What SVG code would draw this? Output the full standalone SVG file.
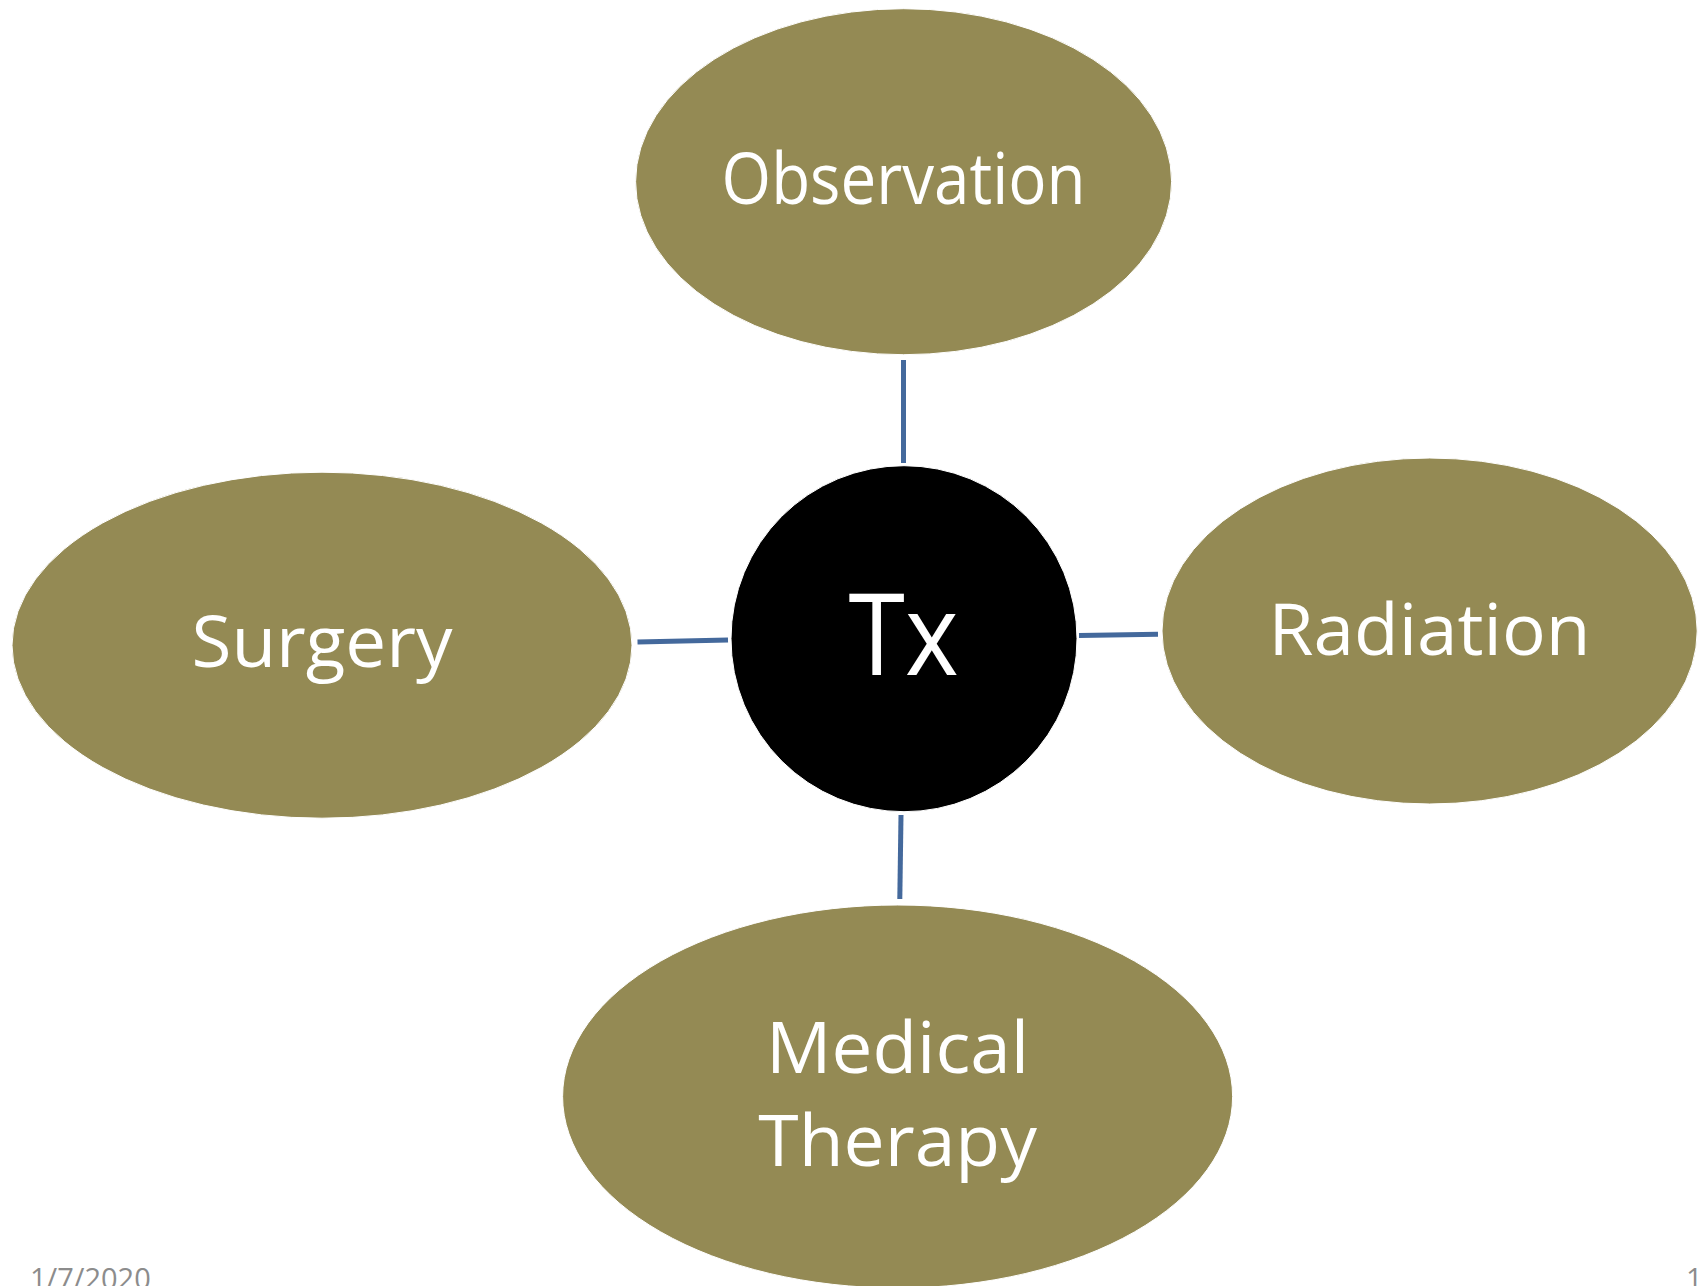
<svg xmlns="http://www.w3.org/2000/svg" width="1706" height="1286" viewBox="0 0 1706 1286">
<style>
.oval{fill:#948a54;stroke:#ffffff;stroke-width:1}
.hub{fill:#000000;stroke:#ffffff;stroke-width:1}
.lbl{font-family:"Open Sans","Noto Sans","Liberation Sans",sans-serif;fill:#ffffff;text-anchor:middle}
.conn line{stroke:#44699c;stroke-width:5}
.foot{font-family:"Open Sans","Liberation Sans",sans-serif;fill:#8c8c8c;font-size:29px}
</style>
<rect width="1706" height="1286" fill="#ffffff"/>
<g id="connectors" class="conn">
<line x1="903.5" y1="360" x2="903.5" y2="463"/>
<line x1="637.5" y1="642" x2="728" y2="640"/>
<line x1="1079" y1="635.5" x2="1158" y2="634.3"/>
<line x1="901" y1="815" x2="899.8" y2="899"/>
</g>
<g id="node-observation">
<ellipse class="oval" cx="903.6" cy="181.7" rx="268" ry="173"/>
<text class="lbl" x="903.6" y="203.5" font-size="72" textLength="364" lengthAdjust="spacingAndGlyphs">Observation</text>
</g>
<g id="node-tx">
<ellipse class="hub" cx="904" cy="638.7" rx="173" ry="173"/>
<text class="lbl" x="903.5" y="674.6" font-size="114" textLength="110" lengthAdjust="spacingAndGlyphs">Tx</text>
</g>
<g id="node-surgery">
<ellipse class="oval" cx="322" cy="645.2" rx="310" ry="173"/>
<text class="lbl" x="322" y="667" font-size="72" textLength="261" lengthAdjust="spacingAndGlyphs">Surgery</text>
</g>
<g id="node-radiation">
<ellipse class="oval" cx="1429.6" cy="631" rx="267.6" ry="173"/>
<text class="lbl" x="1429.6" y="655" font-size="72" textLength="322" lengthAdjust="spacingAndGlyphs">Radiation</text>
</g>
<g id="node-medical-therapy">
<ellipse class="oval" cx="897.6" cy="1096.5" rx="335" ry="191.5"/>
<text class="lbl" x="897.6" y="1072.8" font-size="72" textLength="263" lengthAdjust="spacingAndGlyphs">Medical</text>
<text class="lbl" x="897.6" y="1166.3" font-size="72" textLength="278.5" lengthAdjust="spacingAndGlyphs">Therapy</text>
</g>
<text class="foot" x="30" y="1289">1/7/2020</text>
<text class="foot" x="1686" y="1289">1</text>
</svg>
